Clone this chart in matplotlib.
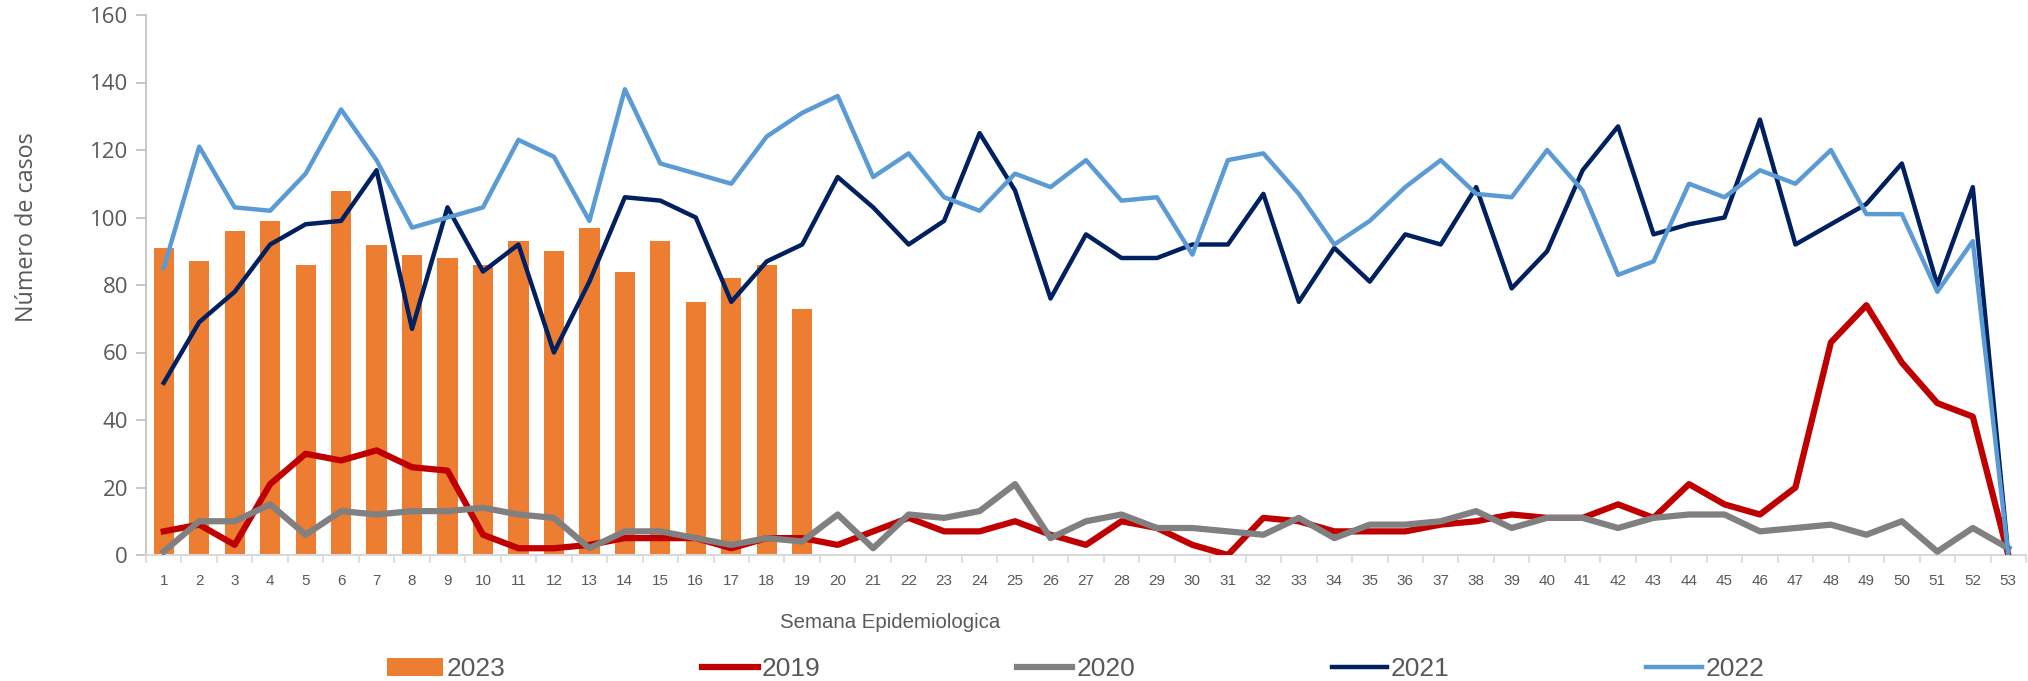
import matplotlib
matplotlib.use("Agg")
import matplotlib.pyplot as plt
import numpy as np

weeks = list(range(1, 54))
tick_labels = [str(w) for w in weeks]

cases_2023 = [91, 87, 96, 99, 86, 108, 92, 89, 88, 86, 93, 90, 97, 84, 93, 75, 82, 86, 73]

cases_2019 = [7, 9, 3, 21, 30, 28, 31, 26, 25, 6, 2, 2, 3, 5, 5, 5, 2, 5, 5, 3,
              7, 11, 7, 7, 10, 6, 3, 10, 8, 3, 0, 11, 10, 7, 7, 7, 9, 10, 12, 11,
              11, 15, 11, 21, 15, 12, 20, 63, 74, 57, 45, 41, 0]

cases_2020 = [1, 10, 10, 15, 6, 13, 12, 13, 13, 14, 12, 11, 2, 7, 7, 5, 3, 5, 4, 12,
              2, 12, 11, 13, 21, 5, 10, 12, 8, 8, 7, 6, 11, 5, 9, 9, 10, 13, 8, 11,
              11, 8, 11, 12, 12, 7, 8, 9, 6, 10, 1, 8, 2]

cases_2021 = [51, 69, 78, 92, 98, 99, 114, 67, 103, 84, 92, 60, 81, 106, 105, 100, 75, 87, 92, 112,
              103, 92, 99, 125, 108, 76, 95, 88, 88, 92, 92, 107, 75, 91, 81, 95, 92, 109, 79, 90,
              114, 127, 95, 98, 100, 129, 92, 98, 104, 116, 80, 109, 0]

cases_2022 = [85, 121, 103, 102, 113, 132, 117, 97, 100, 103, 123, 118, 99, 138, 116, 113, 110, 124, 131, 136,
              112, 119, 106, 102, 113, 109, 117, 105, 106, 89, 117, 119, 107, 92, 99, 109, 117, 107, 106, 120,
              108, 83, 87, 110, 106, 114, 110, 120, 101, 101, 78, 93, 0]

narrow = ['Liberation Sans', 'DejaVu Sans']
wide = ['Open Sans', 'DejaVu Sans']
txt_color = '#595959'

fig = plt.figure(figsize=(20.28, 6.81), dpi=100)
ax = fig.add_axes([146 / 2028, 1 - 555 / 681, (2026 - 146) / 2028, (555 - 15) / 681])

bars = ax.bar(weeks[:len(cases_2023)], cases_2023, width=0.57, color='#ED7D31', label='2023', zorder=2)
l19, = ax.plot(weeks, cases_2019, color='#C00000', lw=4.5, label='2019', zorder=3)
l20, = ax.plot(weeks, cases_2020, color='#808080', lw=4.5, label='2020', zorder=3)
l21, = ax.plot(weeks, cases_2021, color='#002060', lw=3.2, label='2021', zorder=4)
l22, = ax.plot(weeks, cases_2022, color='#5B9BD5', lw=3.2, label='2022', zorder=4)

ax.set_xlim(0.5, 53.5)
ax.set_ylim(0, 160)
ax.set_yticks(np.arange(0, 161, 20))
ax.set_xticks(weeks)
ax.set_xticklabels(tick_labels, family=narrow, fontsize=11, color=txt_color)
ax.set_xticks(np.arange(0.5, 54, 1), minor=True)
ax.tick_params(axis='x', which='major', length=0, pad=14)
ax.tick_params(axis='x', which='minor', length=6, color='#D9D9D9', width=1.2)
ax.tick_params(axis='y', length=7, color='#BFBFBF', width=1.2, pad=6,
               labelsize=16, labelcolor=txt_color, labelfontfamily='Open Sans')

for s in ['top', 'right']:
    ax.spines[s].set_visible(False)
ax.spines['left'].set_color('#BFBFBF')
ax.spines['left'].set_linewidth(1.2)
ax.spines['bottom'].set_color('#D9D9D9')
ax.spines['bottom'].set_linewidth(1.5)

fig.text(27 / 2028, 1 - 227 / 681, 'Número de casos', rotation=90, ha='center', va='center',
         family=wide, fontsize=16.8, color=txt_color)
fig.text(890 / 2028, 1 - 623 / 681, 'Semana Epidemiologica', ha='center', va='center',
         family=narrow, fontsize=14.7, color=txt_color)

leg = fig.legend(handles=[bars, l19, l20, l21, l22], labels=['2023', '2019', '2020', '2021', '2022'],
                 loc='center', bbox_to_anchor=(1076 / 2028, 1 - 669 / 681), ncol=5, frameon=False,
                 prop={'family': narrow, 'size': 19}, handlelength=2.1, handletextpad=0.15,
                 columnspacing=7.45)
for t in leg.get_texts():
    t.set_color(txt_color)

fig.savefig('out.png', dpi=100)
